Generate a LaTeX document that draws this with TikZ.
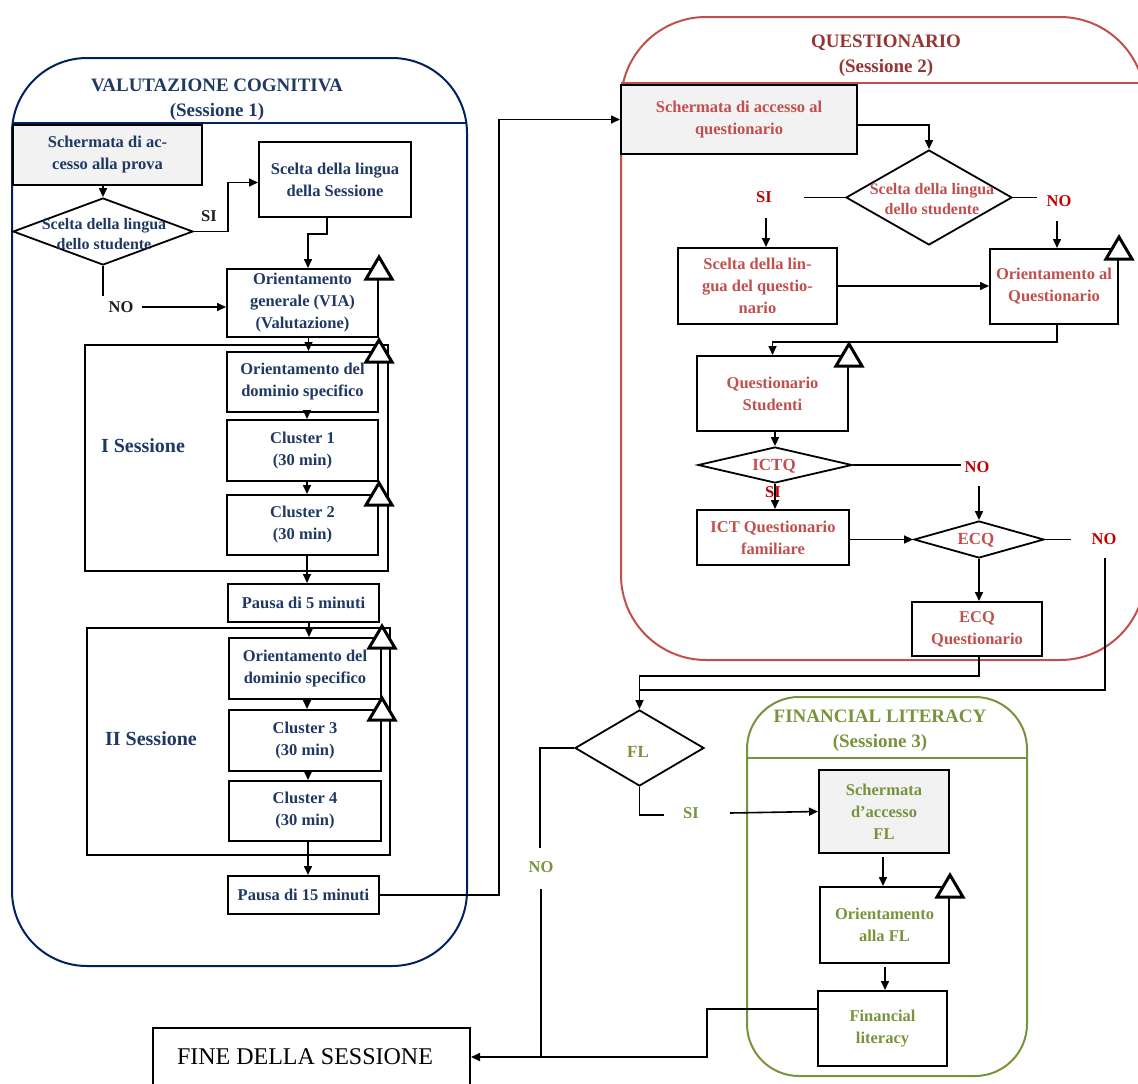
\documentclass[tikz,border=0pt]{standalone}
\usepackage{fontspec}
\setmainfont{Liberation Serif}
\usetikzlibrary{arrows.meta,shapes.geometric,calc}
\definecolor{bluetxt}{RGB}{31,56,100}
\definecolor{blueframe}{RGB}{0,32,96}
\definecolor{redframe}{RGB}{192,80,77}
\definecolor{redtxt}{RGB}{192,80,77}
\definecolor{redtitle}{RGB}{148,54,52}
\definecolor{redlbl}{RGB}{192,0,0}
\definecolor{greenc}{RGB}{119,147,60}
\definecolor{grayfill}{RGB}{242,242,242}
\definecolor{lblk}{RGB}{30,30,30}
\newcommand\backtri[1]{\draw[tri] ($(#1.north east)+(-13,11)$) -- ($(#1.north east)+(13,11)$) -- ($(#1.north east)+(0,-11)$) -- cycle;}
\begin{document}
\begin{tikzpicture}[x=1pt,y=-1pt,
 box/.style={draw=black,line width=2pt,inner sep=0pt,align=center,font=\fontsize{16.5}{22}\selectfont\bfseries},
 gbox/.style={box,fill=grayfill},
 dia/.style={diamond,draw=black,line width=1.8pt,inner sep=0pt},
 dtxt/.style={inner sep=0pt,align=center,font=\fontsize{16}{20}\selectfont\bfseries},
 dword/.style={inner sep=0pt,font=\fontsize{17}{20}\selectfont\bfseries},
 arr/.style={line width=1.6pt,-{Triangle[length=9pt,width=8pt]}},
 ln/.style={line width=1.6pt},
 lbl/.style={inner sep=0pt,font=\fontsize{16.5}{18}\selectfont\bfseries},
 ttl/.style={inner sep=0pt,align=center,font=\fontsize{19}{25}\selectfont\bfseries},
 rframe/.style={line width=2pt,rounded corners=#1},
 sessbox/.style={draw=black,line width=2pt},
 tri/.style={draw=black,line width=3pt,fill=white,line join=miter}]
\useasboundingbox (0,0) rectangle (1138,1084);

% ---------- frames ----------
\draw[rframe=75pt,draw=blueframe] (12,58) rectangle (467,966);
\draw[blueframe,line width=1.5pt] (12,123) -- (467,123);
\draw[rframe=85pt,draw=redframe] (621,17) rectangle (1145,660);
\draw[redframe,line width=1.5pt] (621,83) -- (1145,83);
\draw[rframe=52pt,draw=greenc] (747,697) rectangle (1027,1076);
\draw[greenc,line width=1.5pt] (747,758) -- (1027,758);

\node[ttl,text=bluetxt] (t1) at (217,100) {VALUTAZIONE COGNITIVA\\(Sessione 1)};
\node[ttl,text=redtitle] (t2) at (886,56) {QUESTIONARIO\\(Sessione 2)};
\node[ttl,text=greenc] (t3) at (880,730.5) {FINANCIAL LITERACY\\(Sessione 3)};

% ---------- session boxes ----------
\draw[sessbox] (85,345) rectangle (388,571);
\draw[sessbox] (87,628) rectangle (390,855);
\node[lbl,font=\fontsize{20}{22}\selectfont\bfseries,text=bluetxt] (ls1) at (143,446) {I Sessione};
\node[lbl,font=\fontsize{20}{22}\selectfont\bfseries,text=bluetxt] (ls2) at (151,739) {II Sessione};

% ---------- left column ----------
\node[gbox,text=bluetxt,minimum width=189,minimum height=60] (acc1) at (107.5,155) {Schermata di ac-\\cesso alla prova};
\node[dia,minimum width=180,minimum height=67] (dia1) at (103,231.5) {};
\node[dtxt,text=bluetxt] (dia1t) at (104,234) {Scelta della lingua\\dello studente};
\node[box,text=bluetxt,minimum width=152,minimum height=75] (lang1) at (335,179.5) {Scelta della lingua\\della Sessione};
\node[box,text=bluetxt,minimum width=151,minimum height=68] (ogen) at (302.5,303) {Orientamento\\generale (VIA)\\(Valutazione)};
\node[box,text=bluetxt,minimum width=151,minimum height=60] (o1) at (302.5,382) {Orientamento del\\dominio specifico};
\node[box,text=bluetxt,minimum width=151,minimum height=61] (c1) at (302.5,450.5) {Cluster 1\\(30 min)};
\node[box,text=bluetxt,minimum width=151,minimum height=60] (c2) at (302.5,525) {Cluster 2\\(30 min)};
\node[box,text=bluetxt,minimum width=151,minimum height=38] (p5) at (303.5,603) {Pausa di 5 minuti};
\node[box,text=bluetxt,minimum width=152,minimum height=61] (o2) at (305,668.5) {Orientamento del\\dominio specifico};
\node[box,text=bluetxt,minimum width=152,minimum height=61] (c3) at (305,740.5) {Cluster 3\\(30 min)};
\node[box,text=bluetxt,minimum width=152,minimum height=60] (c4) at (305,811) {Cluster 4\\(30 min)};
\node[box,text=bluetxt,minimum width=151,minimum height=38] (p15) at (303.5,895) {Pausa di 15 minuti};

\node[lbl,text=lblk] (si1) at (209,216) {SI};
\node[lbl,text=lblk] (no1) at (121,307) {NO};

\draw[arr] (dia1.north |- acc1.south) -- (dia1.north);
\draw[arr] (dia1.east) -- ++(34,0) |- ($(lang1.west)+(0,3)$);
\draw[arr] ($(lang1.south)+(-8,0)$) -- ++(0,16) -| ($(ogen.north)+(5.5,0)$);
\draw[ln] (dia1.south) -- ++(0,30);
\draw[arr] ($(no1.east)+(8,0)$) -- (no1.east -| ogen.west);
\draw[arr] ($(ogen.south)+(6,0)$) -- ($(o1.north)+(6,0)$);
\draw[arr] ($(o1.south)+(4.5,0)$) -- ($(c1.north)+(4.5,0)$);
\draw[arr] ($(c1.south)+(4.5,0)$) -- ($(c2.north)+(4.5,0)$);
\draw[arr] ($(c2.south)+(4.5,0)$) -- ($(p5.north)+(3.5,0)$);
\draw[arr] ($(p5.north)+(5.5,38)$) -- ($(o2.north)+(4,0)$);
\draw[arr] ($(o2.south)+(2,0)$) -- ($(c3.north)+(2,0)$);
\draw[arr] ($(c3.south)+(3,0)$) -- ($(c4.north)+(3,0)$);
\draw[arr] ($(c4.south)+(3,0)$) -- ($(p15.north)+(4.5,0)$);

% ---------- questionario ----------
\node[gbox,text=redtxt,minimum width=236,minimum height=69] (acc2) at (739,119.5) {Schermata di accesso al\\questionario};
\node[dia,minimum width=166,minimum height=95] (dia2) at (929,197.5) {};
\node[dtxt,text=redtxt] (dia2t) at (932,199) {Scelta della lingua\\dello studente};
\node[box,text=redtxt,minimum width=159,minimum height=76] (qlang) at (757.5,286) {Scelta della lin-\\gua del questio-\\nario};
\node[box,text=redtxt,minimum width=128,minimum height=75] (qor) at (1054,286.5) {Orientamento al\\Questionario};
\node[box,text=redtxt,minimum width=151,minimum height=75] (qs) at (772.5,393.5) {Questionario\\Studenti};
\node[dia,minimum width=154,minimum height=36] (ictq) at (775,465) {};
\node[dword,text=redtxt] (ictqt) at (774,466) {ICTQ};
\node[box,text=redtxt,minimum width=152,minimum height=55] (ict) at (773,537.5) {ICT Questionario\\familiare};
\node[dia,minimum width=130,minimum height=37] (ecq) at (979,539.5) {};
\node[dword,text=redtxt] (ecqt) at (976,540) {ECQ};
\node[box,text=redtxt,minimum width=130,minimum height=54] (ecqq) at (977,629) {ECQ\\Questionario};

\node[lbl,text=redlbl] (si2) at (764,197) {SI};
\node[lbl,text=redlbl] (no2) at (1059,201) {NO};
\node[lbl,text=redlbl] (no3) at (977,467) {NO};
\node[lbl,text=redlbl] (no4) at (1104,539) {NO};

\draw[arr] (p15.east) -- ++(119,0) |- (acc2.west);
\draw[arr] ($(acc2.east)+(0,5.5)$) -| (dia2.north);
\draw[ln] (dia2.west) -- ++(-41,0);
\draw[ln] (dia2.east) -- ++(24,0);
\draw[arr] ($(qlang.north)+(8.5,-29)$) -- ($(qlang.north)+(8.5,0)$);
\draw[arr] ($(qor.north)+(3,-27)$) -- ($(qor.north)+(3,0)$);
\draw[arr] (qlang.east) -- (qlang.east -| qor.west);
\draw[arr] ($(qor.south)+(3,0)$) -- ++(0,17) -| (qs.north);
\draw[arr] (qs.south -| ictq.north) -- (ictq.north);
\draw[ln] (ictq.east) -- ++(108,0);
\draw[arr] ($(ecq.north)+(0,-34)$) -- (ecq.north);
\draw[arr] (ictq.south) -- (ictq.south |- ict.north);
\node[lbl,text=redlbl] (si3) at (773,492) {SI};
\draw[arr] (ecq.west -| ict.east) -- (ecq.west);
\draw[ln] (ecq.east) -- ++(26,0);
\draw[arr] (ecq.south) -- (ecq.south |- ecqq.north);

% ---------- FL decision ----------
\node[dia,minimum width=129,minimum height=76] (fl) at (639.5,748) {};
\node[dword,text=greenc] (flt) at (638,752) {FL};
\node[lbl,text=greenc] (si4) at (691,813) {SI};
\node[lbl,text=greenc] (no5) at (541,867) {NO};
\coordinate (jn) at (639.5,690);
\coordinate (ndtop) at (1105,558);
\draw[arr] (ecq.south |- ecqq.south) -- ++(0,19) -| (fl.north);
\draw[ln] (ndtop) |- (jn);
\draw[ln] (fl.west) -- ++(-34,0) -- ++(0,100);
\draw[ln] (fl.south) -- ++(0,28) -- ++(24,0);

% ---------- financial literacy ----------
\node[gbox,text=greenc,minimum width=130,minimum height=83] (accfl) at (884,811.5) {Schermata\\d’accesso\\FL};
\node[box,text=greenc,minimum width=129,minimum height=76] (orfl) at (884.5,925) {Orientamento\\alla FL};
\node[box,text=greenc,minimum width=129,minimum height=75] (flit) at (882.5,1028.5) {Financial\\literacy};
\node[draw=black,line width=2pt,inner sep=0pt,minimum width=317,minimum height=58,font=\fontsize{24}{28}\selectfont] (fine) at (311.5,1057) {FINE DELLA SESSIONE\hspace*{13pt}};

\draw[arr] ($(accfl.west)+(-88,1.5)$) -- (accfl.west);
\draw[arr] ($(accfl.south)+(-1,3)$) -- ($(orfl.north)+(-1.5,0)$);
\draw[arr] ($(orfl.south)+(0.5,3)$) -- ($(flit.north)+(2.5,0)$);
\draw[arr] ($(flit.west)+(0,-19.5)$) -- ++(-110,0) |- (fine.east);
\draw[ln] ($(no5.south)+(0,16)$) -- ($(no5.south)+(0,183)$);

% ---------- back triangles ----------
\backtri{ogen}
\backtri{o1}
\backtri{c2}
\backtri{o2}
\backtri{c3}
\backtri{qor}
\backtri{qs}
\backtri{orfl}
\end{tikzpicture}
\end{document}
